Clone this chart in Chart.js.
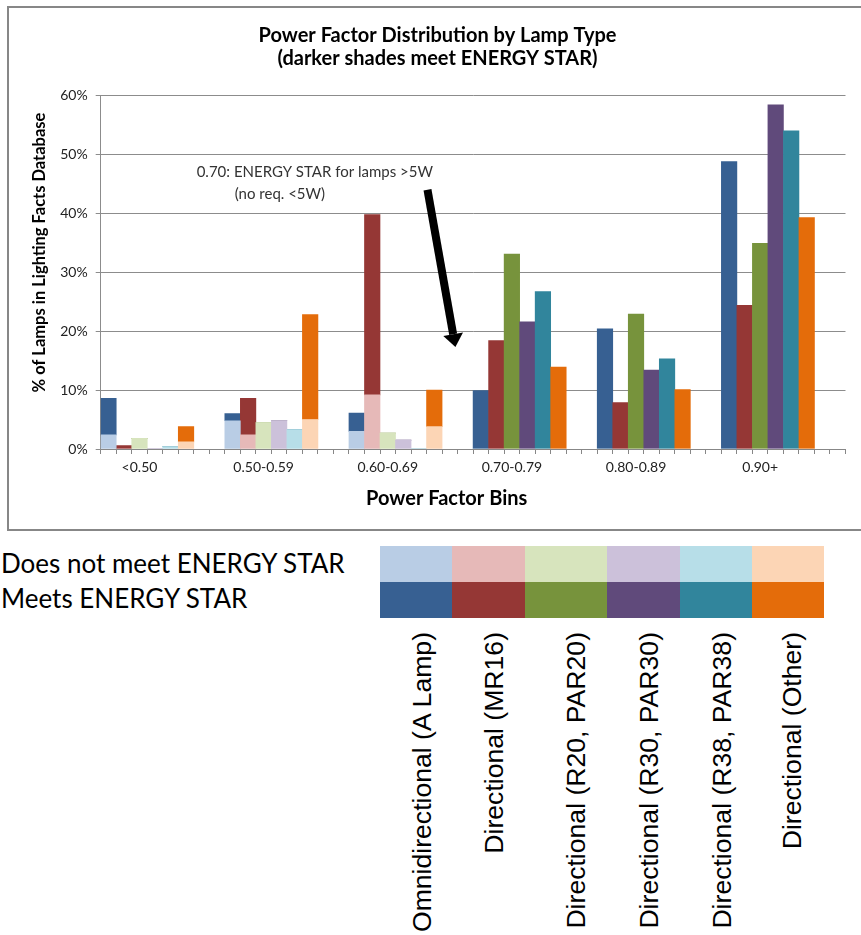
<!DOCTYPE html>
<html>
<head>
<meta charset="utf-8">
<title>Power Factor Distribution by Lamp Type</title>
<script src="https://cdn.jsdelivr.net/npm/chart.js@4.4.1/dist/chart.umd.min.js"></script>
<style>
  html, body { margin: 0; padding: 0; background: #fff; overflow: hidden; }
  body { width: 861px; height: 935px; position: relative; font-family: Lato, sans-serif; }
  #frame { position: absolute; left: 7px; top: 6px; width: 890px; height: 525px; box-sizing: border-box; border: 2px solid #878787; }
  #chartWrap { position: absolute; left: 8px; top: 7px; width: 859px; height: 521px; }
  .key-text { position: absolute; left: 1px; font-size: 26px; line-height: 1; color: #000; white-space: nowrap; }
  #swatches { position: absolute; left: 380px; top: 546px; display: grid;
              grid-template-columns: 72px 73px 82px 73px 72px 72px; grid-template-rows: 36px 36px; }
  .lamp-label { position: absolute; top: 632px; font-family: "Liberation Sans", Arial, sans-serif; font-size: 26.6px;
                line-height: 1; white-space: nowrap; color: #000;
                transform-origin: 0 0; transform: rotate(-90deg) translate(-100%, -50%); }
</style>
</head>
<body>
<div id="frame"></div>
<div id="chartWrap"><canvas id="pfChart" width="859" height="521"></canvas></div>
<div class="key-text" style="top:550px">Does not meet ENERGY STAR</div>
<div class="key-text" style="top:585px">Meets ENERGY STAR</div>
<div id="swatches"></div>
<div id="lampLabels"></div>

<script>
// Power factor bins and lamp types
const binLabels = ['<0.50', '0.50-0.59', '0.60-0.69', '0.70-0.79', '0.80-0.89', '0.90+'];
const lampTypes = ['Omnidirectional (A Lamp)', 'Directional (MR16)', 'Directional (R20, PAR20)',
                   'Directional (R30, PAR30)', 'Directional (R38, PAR38)', 'Directional (Other)'];

// % of lamps per bin: part that does not meet ENERGY STAR, part that meets it
const omniBelow  = [2.4, 4.8, 3.0, 0, 0, 0];
const omniMeets  = [6.2, 1.2, 3.1, 9.9, 20.4, 48.8];
const mr16Below  = [0, 2.4, 9.2, 0, 0, 0];
const mr16Meets  = [0.6, 6.2, 30.6, 18.4, 7.9, 24.4];
const r20Below   = [1.8, 4.5, 2.7, 0, 0, 0];
const r20Meets   = [0, 0, 0, 33.1, 22.9, 34.9];
const r30Below   = [0, 4.8, 1.5, 0, 0, 0];
const r30Meets   = [0, 0, 0, 21.6, 13.4, 58.4];
const r38Below   = [0.4, 3.3, 0, 0, 0, 0];
const r38Meets   = [0, 0, 0, 26.7, 15.3, 54.0];
const otherBelow = [1.2, 5.0, 3.8, 0, 0, 0];
const otherMeets = [2.6, 17.8, 6.2, 13.9, 10.1, 39.3];

const yTicks = [0, 10, 20, 30, 40, 50, 60];

const lightColors = ['#B9CDE5', '#E6B9B8', '#D7E4BD', '#CCC1DA', '#B7DEE8', '#FCD5B5'];
const darkColors  = ['#376092', '#953735', '#77933C', '#604A7B', '#31859C', '#E46C0A'];

const belowByLamp = [omniBelow, mr16Below, r20Below, r30Below, r38Below, otherBelow];
const meetsByLamp = [omniMeets, mr16Meets, r20Meets, r30Meets, r38Meets, otherMeets];

// each bin gets 6 bar slots + 2 empty slots, label sits under the 3rd slot
const slotsPerBin = 8;
const slotLabels = [], belowData = [], meetsData = [], belowColors = [], meetsColors = [];
binLabels.forEach(function(bin, b) {
    for (let s = 0; s < slotsPerBin; s++) {
        slotLabels.push(s === 2 ? bin : '');
        if (s < lampTypes.length) {
            belowData.push(belowByLamp[s][b]);
            meetsData.push(meetsByLamp[s][b]);
            belowColors.push(lightColors[s]);
            meetsColors.push(darkColors[s]);
        } else {
            belowData.push(null);
            meetsData.push(null);
            belowColors.push('transparent');
            meetsColors.push('transparent');
        }
    }
});

// axis titles, note and arrow
const overlayPlugin = {
    id: 'overlay',
    afterDraw(chart) {
        const ctx = chart.ctx;
        const area = chart.chartArea;
        const x = chart.scales.x;
        const y = chart.scales.y;
        ctx.save();
        ctx.fillStyle = '#000';
        ctx.textAlign = 'center';
        ctx.textBaseline = 'middle';

        ctx.font = 'bold 20px Lato';
        ctx.fillText('Power Factor Bins', area.left + 346, area.bottom + 50);

        ctx.save();
        ctx.translate(area.left - 61, area.top + 157);
        ctx.rotate(-Math.PI / 2);
        ctx.font = 'bold 16.5px Lato';
        ctx.fillText('% of Lamps in Lighting Facts Database', 0, 0);
        ctx.restore();

        ctx.fillStyle = '#333';
        ctx.font = '15px Lato';
        ctx.fillText('0.70: ENERGY STAR for lamps >5W', x.getPixelForValue(13.3), y.getPixelForValue(47));
        ctx.fillText('(no req. <5W)', x.getPixelForValue(11.05), y.getPixelForValue(43.2));

        const x0 = x.getPixelForValue(20.56), y0 = y.getPixelForValue(44);
        const x1 = x.getPixelForValue(22.36), y1 = y.getPixelForValue(17.3);
        const ang = Math.atan2(y1 - y0, x1 - x0);
        const headLen = 13, headHalf = 10;
        const bx = x1 - Math.cos(ang) * headLen, by = y1 - Math.sin(ang) * headLen;
        ctx.strokeStyle = '#000';
        ctx.lineWidth = 8;
        ctx.beginPath();
        ctx.moveTo(x0, y0);
        ctx.lineTo(bx, by);
        ctx.stroke();
        ctx.fillStyle = '#000';
        ctx.beginPath();
        ctx.moveTo(x1, y1);
        ctx.lineTo(bx + Math.sin(ang) * headHalf, by - Math.cos(ang) * headHalf);
        ctx.lineTo(bx - Math.sin(ang) * headHalf, by + Math.cos(ang) * headHalf);
        ctx.closePath();
        ctx.fill();
        ctx.restore();
    }
};

const ctx = document.getElementById('pfChart').getContext('2d');
const pfChart = new Chart(ctx, {
    type: 'bar',
    data: {
        labels: slotLabels,
        datasets: [
            { label: 'Does not meet ENERGY STAR', data: belowData, backgroundColor: belowColors, borderWidth: 0 },
            { label: 'Meets ENERGY STAR', data: meetsData, backgroundColor: meetsColors, borderWidth: 0 }
        ]
    },
    options: {
        responsive: false,
        animation: false,
        datasets: { bar: { barPercentage: 1, categoryPercentage: 1 } },
        layout: { padding: { left: 21.5, right: 21.5, top: 0, bottom: 0 } },
        plugins: {
            legend: { display: false },
            tooltip: { enabled: false },
            title: {
                display: true,
                text: 'Power Factor Distribution by Lamp Type',
                color: '#000',
                font: { family: 'Lato', size: 20, weight: 'bold', lineHeight: 1 },
                padding: { top: 19, bottom: 0 }
            },
            subtitle: {
                display: true,
                text: '(darker shades meet ENERGY STAR)',
                color: '#000',
                font: { family: 'Lato', size: 20, weight: 'bold', lineHeight: 1 },
                padding: { top: 3, bottom: 26.5 }
            }
        },
        scales: {
            x: {
                stacked: true,
                grid: { offset: true, drawOnChartArea: false, tickLength: 5, color: '#878787' },
                border: { color: '#878787' },
                ticks: { autoSkip: false, maxRotation: 0, color: '#222', padding: 5,
                         font: { family: 'Lato', size: 14 } },
                afterFit: function(scale) { scale.height = 79; }
            },
            y: {
                stacked: true,
                min: yTicks[0],
                max: yTicks[yTicks.length - 1],
                grid: { color: '#8c8c8c', tickLength: 5 },
                border: { color: '#8c8c8c' },
                ticks: { stepSize: yTicks[1] - yTicks[0], color: '#222', padding: 8,
                         font: { family: 'Lato', size: 14 },
                         callback: function(value) { return value + '%'; } },
                afterFit: function(scale) { scale.width = 71.2; }
            }
        }
    },
    plugins: [overlayPlugin]
});

// colour key under the chart
const swatches = document.getElementById('swatches');
[lightColors, darkColors].forEach(function(row) {
    row.forEach(function(color) {
        const cell = document.createElement('div');
        cell.style.background = color;
        swatches.appendChild(cell);
    });
});

const labelCenters = [422, 494, 576, 649, 722, 792];
const lampLabels = document.getElementById('lampLabels');
lampTypes.forEach(function(name, i) {
    const el = document.createElement('div');
    el.className = 'lamp-label';
    el.style.left = labelCenters[i] + 'px';
    el.textContent = name;
    lampLabels.appendChild(el);
});
</script>
</body>
</html>
